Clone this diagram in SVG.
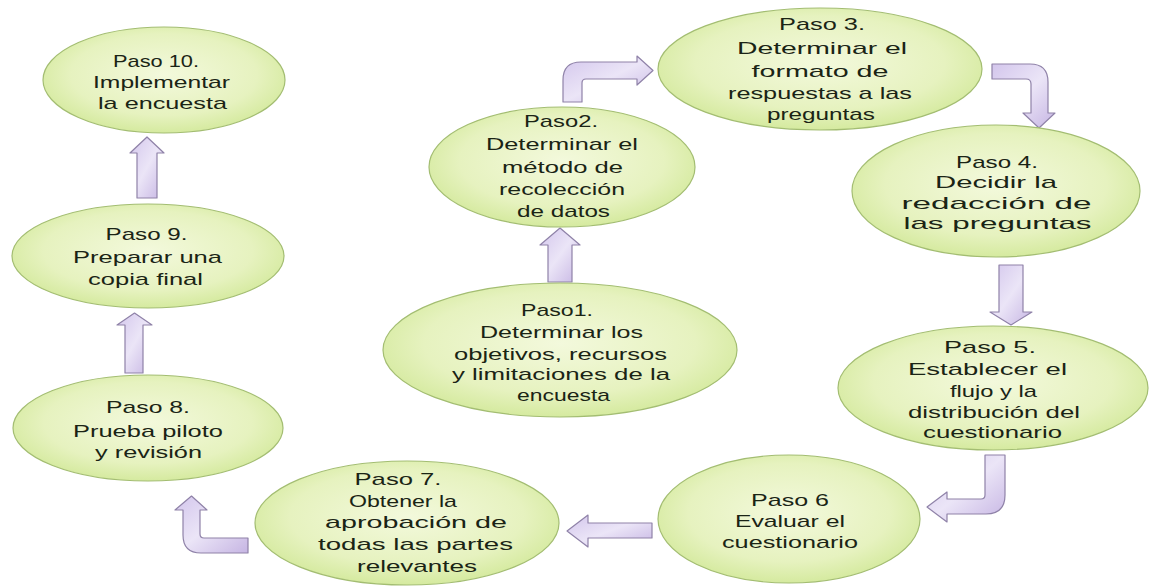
<svg xmlns="http://www.w3.org/2000/svg" width="1149" height="586" viewBox="0 0 1149 586">
<style>
.node ellipse{fill:url(#gEll);stroke:#a3bd72;stroke-width:1.2}
.node text{font-family:"Liberation Sans",Arial,sans-serif;font-size:17px;fill:#1a2415;text-anchor:middle}
.arr path{fill:url(#gArr);stroke:#8f82a8;stroke-width:1.2;stroke-linejoin:round}
</style>
<defs>
<radialGradient id="gEll" cx="0.5" cy="0.45" r="0.55">
<stop offset="0" stop-color="#f3f9dc"/>
<stop offset="0.7" stop-color="#e6f2bf"/>
<stop offset="1" stop-color="#d5ea9f"/>
</radialGradient>
<linearGradient id="gArr" x1="0" y1="0" x2="1" y2="1">
<stop offset="0" stop-color="#d3c6ec"/>
<stop offset="0.5" stop-color="#ebe5f7"/>
<stop offset="1" stop-color="#c6b5e3"/>
</linearGradient>
</defs>
<rect width="1149" height="586" fill="#ffffff"/>
<g id="connectors" class="arr">
<path d="M137,198 L137,153 L130,153 L147,137 L164,153 L157,153 L157,198 Z"/>
<path d="M125,373 L125,325 L117,325 L134.5,313 L152,325 L143,325 L143,373 Z"/>
<path d="M548,282 L548,245 L540,245 L560,228 L580,245 L572,245 L572,282 Z"/>
<path d="M999,265 L1023,265 L1023,312 L1032,312 L1011,325 L990,312 L999,312 Z"/>
<path d="M652,523 L588,523 L588,515 L567,531 L588,547 L588,538 L652,538 Z"/>
<path d="M563,102 L563,80 Q563,62 581,62 L637,62 L637,56 L653,70.5 L637,85 L637,79 L586,79 Q582,79 582,83 L582,102 Z"/>
<path d="M992,64 L1030,64 Q1048,64 1048,82 L1048,113 L1055,113 L1039,128 L1023,113 L1031,113 L1031,84 Q1031,79 1026,79 L992,79 Z"/>
<path d="M985,455 L1005,455 L1005,495 Q1005,514 986,514 L947,514 L947,522 L927,507 L947,492 L947,499 L981,499 Q985,499 985,495 Z"/>
<path d="M248,538 L204,538 Q200,538 200,534 L200,510 L207,510 L191.5,496 L175,510 L183,510 L183,535 Q183,553 201,553 L248,553 Z"/>
</g>
<g id="paso10" class="node">
<ellipse cx="164" cy="80" rx="121" ry="53"/>
<text x="156" y="67" textLength="86" lengthAdjust="spacingAndGlyphs">Paso 10.</text>
<text x="161.5" y="88" textLength="137" lengthAdjust="spacingAndGlyphs">Implementar</text>
<text x="162.5" y="109" textLength="129" lengthAdjust="spacingAndGlyphs">la encuesta</text>
</g>
<g id="paso9" class="node">
<ellipse cx="148" cy="256" rx="136" ry="52"/>
<text x="146.5" y="240" textLength="82" lengthAdjust="spacingAndGlyphs">Paso 9.</text>
<text x="147.5" y="263" textLength="149" lengthAdjust="spacingAndGlyphs">Preparar una</text>
<text x="145.5" y="285" textLength="115" lengthAdjust="spacingAndGlyphs">copia final</text>
</g>
<g id="paso8" class="node">
<ellipse cx="148" cy="428" rx="135" ry="53"/>
<text x="148" y="413" textLength="84" lengthAdjust="spacingAndGlyphs">Paso 8.</text>
<text x="148" y="437" textLength="150" lengthAdjust="spacingAndGlyphs">Prueba piloto</text>
<text x="148.5" y="458" textLength="107" lengthAdjust="spacingAndGlyphs">y revisión</text>
</g>
<g id="paso2" class="node">
<ellipse cx="562" cy="167" rx="133" ry="60"/>
<text x="561" y="127" textLength="74" lengthAdjust="spacingAndGlyphs">Paso2.</text>
<text x="562" y="150" textLength="152" lengthAdjust="spacingAndGlyphs">Determinar el</text>
<text x="562.5" y="173" textLength="121" lengthAdjust="spacingAndGlyphs">método de</text>
<text x="562" y="195" textLength="126" lengthAdjust="spacingAndGlyphs">recolección</text>
<text x="563.5" y="217" textLength="93" lengthAdjust="spacingAndGlyphs">de datos</text>
</g>
<g id="paso3" class="node">
<ellipse cx="820" cy="69" rx="162" ry="61"/>
<text x="822" y="30" textLength="86" lengthAdjust="spacingAndGlyphs">Paso 3.</text>
<text x="822" y="54" textLength="170" lengthAdjust="spacingAndGlyphs">Determinar el</text>
<text x="820" y="77" textLength="137" lengthAdjust="spacingAndGlyphs">formato de</text>
<text x="820" y="99" textLength="184" lengthAdjust="spacingAndGlyphs">respuestas a las</text>
<text x="821" y="120" textLength="108" lengthAdjust="spacingAndGlyphs">preguntas</text>
</g>
<g id="paso4" class="node">
<ellipse cx="996" cy="191" rx="144" ry="66"/>
<text x="997" y="168" textLength="82" lengthAdjust="spacingAndGlyphs">Paso 4.</text>
<text x="996" y="188" textLength="122" lengthAdjust="spacingAndGlyphs">Decidir la</text>
<text x="996.5" y="209" textLength="190" lengthAdjust="spacingAndGlyphs">redacción de</text>
<text x="997.5" y="229" textLength="188" lengthAdjust="spacingAndGlyphs">las preguntas</text>
</g>
<g id="paso5" class="node">
<ellipse cx="993" cy="388" rx="155" ry="62"/>
<text x="990" y="353" textLength="92" lengthAdjust="spacingAndGlyphs">Paso 5.</text>
<text x="987.5" y="375" textLength="159" lengthAdjust="spacingAndGlyphs">Establecer el</text>
<text x="993.5" y="397" textLength="87" lengthAdjust="spacingAndGlyphs">flujo y la</text>
<text x="994" y="418" textLength="172" lengthAdjust="spacingAndGlyphs">distribución del</text>
<text x="992.5" y="438" textLength="139" lengthAdjust="spacingAndGlyphs">cuestionario</text>
</g>
<g id="paso6" class="node">
<ellipse cx="789" cy="519" rx="131" ry="64"/>
<text x="790" y="506" textLength="78" lengthAdjust="spacingAndGlyphs">Paso 6</text>
<text x="790" y="527" textLength="110" lengthAdjust="spacingAndGlyphs">Evaluar el</text>
<text x="790" y="548" textLength="136" lengthAdjust="spacingAndGlyphs">cuestionario</text>
</g>
<g id="paso7" class="node">
<ellipse cx="407" cy="523" rx="152" ry="62"/>
<text x="398" y="485" textLength="87" lengthAdjust="spacingAndGlyphs">Paso 7.</text>
<text x="403" y="507" textLength="108" lengthAdjust="spacingAndGlyphs">Obtener la</text>
<text x="416" y="528" textLength="182" lengthAdjust="spacingAndGlyphs">aprobación de</text>
<text x="415.5" y="550" textLength="195" lengthAdjust="spacingAndGlyphs">todas las partes</text>
<text x="417" y="572" textLength="120" lengthAdjust="spacingAndGlyphs">relevantes</text>
</g>
<g id="paso1" class="node">
<ellipse cx="560" cy="350" rx="177" ry="67"/>
<text x="557" y="316" textLength="72" lengthAdjust="spacingAndGlyphs">Paso1.</text>
<text x="561.5" y="338" textLength="163" lengthAdjust="spacingAndGlyphs">Determinar los</text>
<text x="560.5" y="360" textLength="213" lengthAdjust="spacingAndGlyphs">objetivos, recursos</text>
<text x="561" y="380" textLength="218" lengthAdjust="spacingAndGlyphs">y limitaciones de la</text>
<text x="563.5" y="401" textLength="93" lengthAdjust="spacingAndGlyphs">encuesta</text>
</g>
</svg>
